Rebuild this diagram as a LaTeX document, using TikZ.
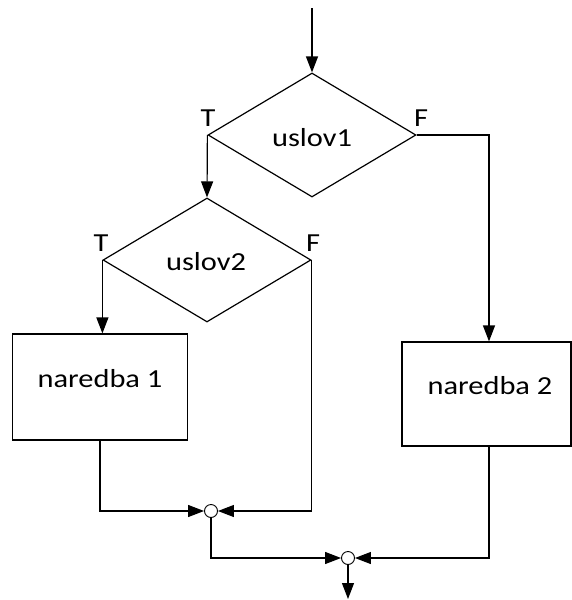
\documentclass[tikz,border=0pt]{standalone}
\usepackage{fontspec}
\setmainfont{Carlito}[FakeStretch=1.17]
\usetikzlibrary{shapes.geometric,arrows.meta}
\begin{document}
\begin{tikzpicture}[x=1pt,y=-1pt,
  font=\fontsize{26}{30}\selectfont,
  lw/.style={line width=1.2pt},
  dec/.style={draw, diamond, lw, inner sep=0pt, minimum width=208pt, minimum height=124pt},
  blk/.style={draw, rectangle, lw, inner sep=0pt},
  jn/.style={draw, circle, line width=0.9pt, fill=white, inner sep=0pt, minimum size=13pt},
  txt/.style={inner sep=0pt, anchor=center},
  conn/.style={lw, -{Triangle[length=16pt,width=12pt]}}]
\useasboundingbox (0,0) rectangle (572,600);
% shapes
\node[dec] (d1) at (312,135) {};
\node[dec] (d2) at (207,260) {};
\node[blk, minimum width=175pt, minimum height=106pt] (b1) at (100,387) {};
\node[blk, minimum width=169pt, minimum height=104pt] (b2) at (486.5,394) {};
\node[jn] (c1) at (211,511) {};
\node[jn] (c2) at (348,558) {};
% texts
\node[txt] (t1) at (312,138) {uslov1};
\node[txt] (t2) at (206,262) {uslov2};
\node[txt] (t3) at (100,379) {naredba 1};
\node[txt] (t4) at (490,386) {naredba 2};
\node[txt] (l1) at (208,118) {T};
\node[txt] (l2) at (421,118) {F};
\node[txt] (l3) at (101,243) {T};
\node[txt] (l4) at (313,243) {F};
% connectors
\coordinate (start) at (312,8);
\coordinate (finish) at (348,599);
\coordinate (col2) at (489,0);
\draw[conn] (start) -- (d1.north);
\draw[conn] (d1.west) -- (d2.north);
\draw[conn] (d2.west) -- (d2.west |- b1.north);
\draw[conn] (d1.east) -| (col2 |- b2.north);
\draw[conn] (b1.south) |- (c1.west);
\draw[conn] (d2.east) |- (c1.east);
\draw[conn] (c1.south) |- (c2.west);
\draw[conn] (col2 |- b2.south) |- (c2.east);
\draw[conn] (c2.south) -- (finish);
\end{tikzpicture}
\end{document}
